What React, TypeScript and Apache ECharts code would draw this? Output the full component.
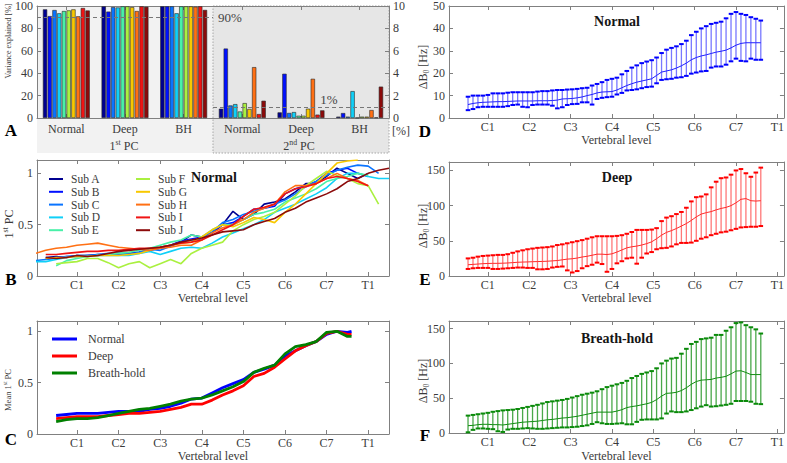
import { useEffect, useRef } from 'react';
import * as echarts from 'echarts';

const FONT = "'Liberation Serif', 'DejaVu Serif', serif";
const TEXT = '#3a3a3a';
const AXIS = '#808080';

// ---------- Panel A : variance explained ----------
const subjects = ['Sub A', 'Sub B', 'Sub C', 'Sub D', 'Sub E', 'Sub F', 'Sub G', 'Sub H', 'Sub I', 'Sub J'];
const subjectColors = ['#000090', '#0010ff', '#0a74ff', '#10d0f8', '#48f0a8', '#aaf040', '#f8c800', '#ff7014', '#f01414', '#8c0a0a'];
const conditionLabels = ['Normal', 'Deep', 'BH'];
const pc1Normal = [97, 91, 96.4, 93.5, 95.5, 96.1, 97, 90.8, 98.2, 96];
const pc1Deep = [99.7, 95, 99, 98.7, 99.7, 99.7, 99, 95.5, 99.7, 99.3];
const pc1BH = [99.7, 99.7, 99.7, 93.5, 99.7, 99.7, 99.7, 99.4, 99.7, 96.5];
const pc2Normal = [0.83, 6.2, 1.12, 1.24, 0.58, 1.33, 0.81, 4.54, 0.35, 1.54];
const pc2Deep = [0.5, 3.95, 0.45, 0.53, 0.2, 0.2, 0.83, 3.5, 0.3, 0.68];
const pc2BH = [0.12, 0.44, 0.12, 2.4, 0.03, 0.12, 0.12, 0.71, 0.05, 2.8];

// ---------- vertebral axis ----------
const vertLabels = ['C1', 'C2', 'C3', 'C4', 'C5', 'C6', 'C7', 'T1'];
const vertTicks = [1, 2, 3, 4, 5, 6, 7, 8];

// ---------- Panel B : 1st PC per subject ----------
const bX = [0, 0.25, 0.5, 0.75, 1, 1.25, 1.5, 1.75, 2, 2.25, 2.5, 2.75, 3, 3.25, 3.5, 3.75, 4, 4.25, 4.5, 4.75, 5, 5.25, 5.5, 5.75, 6, 6.25, 6.5, 6.75, 7, 7.25, 7.5, 7.75, 8, 8.25, 8.5];
const subA = [null, 0.18, 0.19, 0.18, 0.2, 0.2, 0.21, 0.21, 0.22, 0.22, 0.23, 0.25, 0.27, 0.3, 0.33, 0.4, 0.38, 0.42, 0.5, 0.63, 0.55, 0.6, 0.7, 0.72, 0.75, 0.82, 0.9, 0.9, 0.97, 1.05, 1.0, 0.95, 1.0, null, null];
const subB = [null, 0.17, 0.18, 0.19, 0.19, 0.2, 0.2, 0.21, 0.21, 0.22, 0.23, 0.26, 0.28, 0.3, 0.34, 0.36, 0.38, 0.42, 0.5, 0.52, 0.58, 0.65, 0.66, 0.68, 0.8, 0.85, 0.88, 0.92, 1.0, 1.03, 1.05, 1.0, 0.97, null, null];
const subC = [0.15, 0.16, 0.17, 0.19, 0.2, 0.2, 0.21, 0.22, 0.22, 0.21, 0.23, 0.26, 0.25, 0.29, 0.33, 0.35, 0.36, 0.43, 0.52, 0.55, 0.6, 0.63, 0.66, 0.7, 0.74, 0.8, 0.87, 0.92, 0.98, 1.03, 1.06, 1.08, 1.07, 1.0, null];
const subD = [0.14, 0.14, 0.16, 0.18, 0.19, 0.19, 0.2, 0.2, 0.2, 0.2, 0.22, 0.24, 0.21, 0.24, 0.27, 0.28, 0.27, 0.32, 0.38, 0.42, 0.46, 0.5, 0.55, 0.62, 0.66, 0.7, 0.75, 0.8, 0.86, 0.95, 1.0, 1.0, 0.97, 0.95, 0.95];
const subE = [null, null, 0.1, 0.15, 0.17, 0.19, 0.2, 0.21, 0.22, 0.23, 0.25, 0.27, 0.3, 0.33, 0.35, 0.4, 0.38, 0.45, 0.5, 0.5, 0.55, 0.6, 0.62, 0.65, 0.72, 0.76, 0.8, 0.85, 0.92, 0.95, 0.97, 1.0, 0.98, null, null];
const subF = [null, null, 0.12, 0.13, 0.14, 0.17, 0.17, 0.13, 0.08, 0.12, 0.14, 0.08, 0.12, 0.16, 0.12, 0.22, 0.27, 0.3, 0.33, 0.44, 0.5, 0.55, 0.58, 0.62, 0.7, 0.78, 0.88, 0.95, 1.02, 0.98, 0.95, 0.9, 0.88, 0.7, null];
const subG = [null, 0.17, 0.18, 0.18, 0.19, 0.19, 0.2, 0.2, 0.2, 0.21, 0.22, 0.25, 0.28, 0.3, 0.32, 0.33, 0.38, 0.45, 0.5, 0.48, 0.52, 0.57, 0.55, 0.52, 0.62, 0.7, 0.8, 0.9, 1.0, 1.1, 1.12, 1.13, null, null, null];
const subH = [0.22, 0.25, 0.27, 0.28, 0.3, 0.31, 0.32, 0.3, 0.28, 0.27, 0.26, 0.25, 0.27, 0.28, 0.3, 0.3, 0.35, 0.42, 0.47, 0.5, 0.55, 0.62, 0.66, 0.7, 0.82, 0.88, 0.88, 0.9, 0.95, 1.0, 0.95, 0.93, 0.88, null, null];
const subI = [null, 0.21, 0.21, 0.22, 0.23, 0.24, 0.24, 0.25, 0.25, 0.26, 0.27, 0.27, 0.28, 0.3, 0.32, 0.33, 0.35, 0.4, 0.45, 0.5, 0.58, 0.65, 0.67, 0.7, 0.8, 0.85, 0.87, 0.9, 0.95, 0.97, 0.95, 0.92, 0.88, null, null];
const subJ = [null, 0.18, 0.17, 0.18, 0.2, 0.19, 0.2, 0.22, 0.24, 0.25, 0.26, 0.27, 0.28, 0.3, 0.33, 0.35, 0.37, 0.4, 0.43, 0.44, 0.45, 0.5, 0.53, 0.56, 0.62, 0.66, 0.72, 0.76, 0.8, 0.85, 0.92, 0.95, 1.0, 1.03, 1.05];
const subjectCurves = [subA, subB, subC, subD, subE, subF, subG, subH, subI, subJ];

// ---------- Panel C : mean 1st PC ----------
const cX = [0.5, 0.75, 1, 1.25, 1.5, 1.75, 2, 2.25, 2.5, 2.75, 3, 3.25, 3.5, 3.75, 4, 4.25, 4.5, 4.75, 5, 5.25, 5.5, 5.75, 6, 6.25, 6.5, 6.75, 7, 7.25, 7.5, 7.6];
const meanNormal = [0.18, 0.19, 0.2, 0.2, 0.2, 0.21, 0.22, 0.22, 0.22, 0.24, 0.25, 0.27, 0.3, 0.34, 0.35, 0.4, 0.45, 0.49, 0.53, 0.6, 0.63, 0.67, 0.76, 0.81, 0.86, 0.9, 0.97, 1.0, 0.99, 1.0];
const meanDeep = [0.15, 0.16, 0.17, 0.17, 0.17, 0.18, 0.19, 0.2, 0.2, 0.21, 0.22, 0.24, 0.26, 0.29, 0.29, 0.33, 0.38, 0.42, 0.47, 0.56, 0.59, 0.65, 0.73, 0.81, 0.86, 0.9, 0.98, 1.0, 0.97, 0.97];
const meanBH = [0.12, 0.14, 0.15, 0.15, 0.16, 0.18, 0.2, 0.22, 0.24, 0.25, 0.27, 0.29, 0.32, 0.34, 0.35, 0.38, 0.42, 0.46, 0.51, 0.6, 0.64, 0.67, 0.78, 0.85, 0.87, 0.9, 0.99, 1.0, 0.95, 0.95];

// ---------- Panels D-F : delta B0 ----------
const ebX = [0.52, 0.64, 0.76, 0.88, 1.0, 1.12, 1.24, 1.36, 1.48, 1.6, 1.72, 1.84, 1.96, 2.08, 2.2, 2.32, 2.44, 2.56, 2.68, 2.8, 2.92, 3.04, 3.16, 3.28, 3.4, 3.52, 3.64, 3.76, 3.88, 4.0, 4.12, 4.24, 4.36, 4.48, 4.6, 4.72, 4.84, 4.96, 5.08, 5.2, 5.32, 5.44, 5.56, 5.68, 5.8, 5.92, 6.04, 6.16, 6.28, 6.4, 6.52, 6.64, 6.76, 6.88, 7.0, 7.12, 7.24, 7.36, 7.48, 7.6];
const dMean = [6, 6.5, 6.8, 7, 7.1, 7.2, 7.3, 7.3, 7.4, 7.5, 7.6, 7.6, 7.6, 7.6, 7.7, 7.7, 7.7, 7.8, 8, 8.5, 8.6, 8.7, 9, 9.4, 10, 10.5, 11.2, 11.6, 11.7, 11.8, 12.5, 13.5, 14.5, 15.3, 16, 16.5, 17, 17.5, 19, 20.5, 21, 21.5, 22.3, 23.3, 24.5, 26, 27, 27.7, 28.2, 28.8, 29.4, 29.8, 30.3, 31.3, 32.5, 33.3, 33.6, 33.6, 33.6, 33.6];
const dLo = [3.5, 4, 4.8, 5, 5, 5, 5, 5, 5.3, 5.8, 6, 5, 4.8, 5.8, 6, 6, 6, 5.5, 4.3, 4.8, 5.8, 6.2, 6.3, 7, 7, 6, 8.5, 9, 9.3, 9.5, 10.5, 11.2, 12.3, 12.5, 12.8, 13.3, 13.8, 14, 15.5, 17, 17.3, 17.5, 18, 18.2, 18.8, 19.8, 20.3, 20.8, 21, 22.5, 23, 23, 23.8, 25.3, 26.5, 25.5, 25.3, 26.5, 26, 26];
const dHi = [9.5, 10, 10, 10, 10.3, 11, 11, 11, 11.3, 11.5, 11.5, 11.5, 11.5, 11.5, 11.8, 12, 12, 12.3, 12.5, 12.5, 12.7, 12.8, 13, 13.3, 13.5, 14.5, 15.2, 16, 17, 17.5, 18, 19.5, 21, 22.5, 23.5, 24.5, 25.2, 25.8, 27, 29, 30.5, 31.3, 32, 33, 34.5, 37, 38.5, 40, 41, 42, 42.5, 43, 44.5, 46.5, 47.3, 46.5, 46, 45, 44.3, 43.5];
const eMean = [16, 16.5, 17, 17.5, 17.8, 18, 18, 18.2, 18.5, 19, 19.5, 19.8, 20, 20.3, 20.5, 20.7, 21, 21.5, 22, 23, 24, 24.5, 25.5, 27, 28, 29.5, 31, 31, 30.5, 31.5, 34, 37, 40, 41.5, 42.5, 44, 46, 48.5, 53, 58, 62, 64.5, 67.5, 71, 74.5, 79, 84, 88, 90, 91.5, 94, 96, 97.5, 100, 104, 109, 110, 107, 106.5, 107];
const eLo = [10, 11, 11.5, 11.5, 11.5, 10, 10, 10.5, 11, 11.5, 12, 12, 11.5, 11.5, 9.5, 9.5, 10, 12, 13, 13.5, 8, 5, 7, 11, 14, 16, 19, 17, 6, 10, 18, 21, 25, 26, 17.5, 26, 32, 34, 38, 39.5, 40, 42, 45, 47, 47, 47.5, 50, 53, 55, 58, 60, 62, 63, 65, 67, 69, 69.5, 70, 70, 71];
const eHi = [25, 26, 27.5, 28.5, 29, 29.5, 30, 30, 31, 33, 35, 36.5, 38, 39, 40, 40.5, 41, 42, 44, 45, 46.5, 48, 49.5, 51, 53, 55, 56.5, 56.5, 56.5, 56.5, 57, 58, 60, 62.5, 65.5, 65.5, 65.5, 66, 68, 78, 83, 85, 88, 91, 97, 106, 112, 113, 116, 126, 134, 139, 140, 144, 150, 152, 146, 141, 147, 154];
const fMean = [10.5, 11, 12, 12.5, 12.5, 12, 12, 11.5, 12.5, 13.5, 14.5, 15.5, 16, 16.5, 17, 18, 19, 19.5, 20.5, 21.5, 22, 23, 24, 25.5, 27, 28.5, 30, 30, 30, 30, 31.5, 33.5, 36.5, 38, 39, 40.5, 42, 44, 48, 53, 57, 57.5, 58.5, 61, 65, 70, 74, 76, 76.5, 77, 79, 80, 81.5, 85, 89, 89.5, 87, 84, 84, 84];
const fLo = [1, 4.5, 6.5, 6.5, 6, 5.5, 2.5, 1.5, 5, 6, 6, 6.5, 7, 6.5, 6, 6, 6.5, 7, 7.5, 8, 8, 8.5, 9, 10, 11, 13, 15.5, 14, 13, 13, 13.5, 14, 12.5, 12.5, 16, 19, 19.5, 19.5, 19.5, 21, 28, 31, 30, 30, 31, 33, 35.5, 38, 40, 38, 38.5, 39.5, 40.5, 42, 46, 46, 46, 45, 42, 41.5];
const fHi = [25, 26, 27, 28, 29, 30.5, 31.5, 32.5, 33, 33.5, 34.5, 36, 37.5, 39, 40.5, 42.5, 44.5, 45.5, 46.5, 47.5, 49, 51, 53, 55, 56.5, 58, 60, 63, 66, 68, 70, 72, 75, 79, 82, 85, 87, 89, 93, 100, 104, 107, 108, 114, 121, 128, 131, 135, 136, 137, 141, 141, 147, 152, 158, 159, 155, 152, 149, 143];

const labelStyle = { fontFamily: FONT, fontSize: 12, color: TEXT };

function catAxis(gridIndex: number, position: 'bottom' | 'top') {
  return {
    type: 'category', gridIndex, position, data: conditionLabels,
    axisLine: { show: true, onZero: false, lineStyle: { color: AXIS, width: 1 } },
    axisTick: { show: true, inside: true, length: 4, alignWithLabel: true, interval: 0, lineStyle: { color: AXIS } },
    axisLabel: { show: position === 'bottom', interval: 0, margin: 5, ...labelStyle },
    splitLine: { show: false },
  };
}

function vertAxis(gridIndex: number, min: number, max: number, position: 'bottom' | 'top', nameGap: number) {
  return {
    type: 'value', gridIndex, position, min, max,
    name: position === 'bottom' ? 'Vertebral level' : '',
    nameLocation: 'middle', nameGap,
    nameTextStyle: { ...labelStyle },
    axisLine: { show: true, onZero: false, lineStyle: { color: AXIS, width: 1 } },
    axisTick: { show: true, inside: true, length: 4, customValues: vertTicks, lineStyle: { color: AXIS } },
    axisLabel: {
      show: position === 'bottom', customValues: vertTicks, margin: 3, ...labelStyle,
      formatter: (v: number) => vertLabels[Math.round(v) - 1] ?? '',
    },
    splitLine: { show: false },
  };
}

function valAxis(gridIndex: number, min: number, max: number, ticks: number[], position: 'left' | 'right', showLabel: boolean) {
  return {
    type: 'value', gridIndex, position, min, max,
    axisLine: { show: true, onZero: false, lineStyle: { color: AXIS, width: 1 } },
    axisTick: { show: true, inside: true, length: 4, customValues: ticks, lineStyle: { color: AXIS } },
    axisLabel: { show: showLabel, customValues: ticks, margin: 4, ...labelStyle },
    splitLine: { show: false },
  };
}

function errorBars(name: string, lo: number[], hi: number[], xi: number, yi: number, stem: string, cap: string) {
  return {
    type: 'custom', name, xAxisIndex: xi, yAxisIndex: yi, z: 2,
    data: ebX.map((x, i) => [x, lo[i], hi[i]]),
    encode: { x: 0, y: [1, 2] },
    renderItem: (_p: any, api: any) => {
      const x = api.value(0);
      const a = api.coord([x, api.value(1)]);
      const b = api.coord([x, api.value(2)]);
      const hw = 2.3;
      return {
        type: 'group',
        children: [
          { type: 'line', shape: { x1: a[0], y1: a[1], x2: b[0], y2: b[1] }, style: { stroke: stem, lineWidth: 1.3 } },
          { type: 'line', shape: { x1: a[0] - hw, y1: a[1], x2: a[0] + hw, y2: a[1] }, style: { stroke: cap, lineWidth: 2 } },
          { type: 'line', shape: { x1: b[0] - hw, y1: b[1], x2: b[0] + hw, y2: b[1] }, style: { stroke: cap, lineWidth: 2 } },
        ],
      };
    },
  };
}

function meanLine(name: string, mean: number[], xi: number, yi: number, color: string) {
  return {
    type: 'line', name, xAxisIndex: xi, yAxisIndex: yi, z: 3, symbol: 'none',
    data: ebX.map((x, i) => [x, mean[i]]),
    lineStyle: { color, width: 1 },
  };
}

function richText(x: number, y: number, text: string, rich: any, size: number, rotate = false) {
  return {
    type: 'text', x, y, z: 100, rotation: rotate ? Math.PI / 2 : 0,
    style: { text, rich, align: 'center', verticalAlign: 'middle', fontFamily: FONT, fontSize: size, fill: TEXT },
  };
}

function richSet(size: number) {
  return {
    n: { fontFamily: FONT, fontSize: size, lineHeight: size + 3, fill: TEXT },
    s: { fontFamily: FONT, fontSize: size * 0.65, verticalAlign: 'top', fill: TEXT },
    b: { fontFamily: FONT, fontSize: size * 0.65, verticalAlign: 'bottom', fill: TEXT },
  };
}

function plainText(x: number, y: number, text: string, size: number, bold: boolean, rotate = false, color = TEXT) {
  return {
    type: 'text', x, y, z: 100, rotation: rotate ? Math.PI / 2 : 0,
    style: { text, align: 'center', verticalAlign: 'middle', fontFamily: FONT, fontSize: size, fontWeight: bold ? 'bold' : 'normal', fill: color },
  };
}

function buildOption() {
  const grids = [
    { left: 37, top: 6, width: 176, height: 112 },
    { left: 213, top: 6, width: 176, height: 112 },
    { left: 37, top: 160, width: 352, height: 116 },
    { left: 37, top: 321, width: 352, height: 113 },
    { left: 449, top: 6, width: 337, height: 112 },
    { left: 449, top: 162, width: 337, height: 114 },
    { left: 449, top: 321, width: 337, height: 112 },
  ];

  const xAxis = [
    catAxis(0, 'bottom'), catAxis(1, 'bottom'), catAxis(0, 'top'), catAxis(1, 'top'),
    vertAxis(2, 0.04, 8.5, 'bottom', 16), vertAxis(2, 0.04, 8.5, 'top', 0),
    vertAxis(3, 0.04, 8.5, 'bottom', 12), vertAxis(3, 0.04, 8.5, 'top', 0),
    vertAxis(4, 0.06, 8.16, 'bottom', 15), vertAxis(4, 0.06, 8.16, 'top', 0),
    vertAxis(5, 0.06, 8.16, 'bottom', 16), vertAxis(5, 0.06, 8.16, 'top', 0),
    vertAxis(6, 0.06, 8.16, 'bottom', 17), vertAxis(6, 0.06, 8.16, 'top', 0),
  ];

  const pcTicks = [0, 0.5, 1];
  const yAxis = [
    valAxis(0, 0, 100, [0, 20, 40, 60, 80, 100], 'left', true),
    valAxis(1, 0, 10, [0, 2, 4, 6, 8, 10], 'right', true),
    valAxis(2, 0, 1.13, pcTicks, 'left', true), valAxis(2, 0, 1.13, pcTicks, 'right', false),
    valAxis(3, 0, 1.1, pcTicks, 'left', true), valAxis(3, 0, 1.1, pcTicks, 'right', false),
    valAxis(4, 0, 50, [0, 10, 20, 30, 40, 50], 'left', true), valAxis(4, 0, 50, [0, 10, 20, 30, 40, 50], 'right', false),
    valAxis(5, 0, 162, [0, 50, 100, 150], 'left', true), valAxis(5, 0, 162, [0, 50, 100, 150], 'right', false),
    valAxis(6, 0, 161, [0, 50, 100, 150], 'left', true), valAxis(6, 0, 161, [0, 50, 100, 150], 'right', false),
  ];

  const series: any[] = [];
  subjects.forEach((s, i) => {
    series.push({
      type: 'bar', name: s + ' (1st PC)', xAxisIndex: 0, yAxisIndex: 0,
      data: [pc1Normal[i], pc1Deep[i], pc1BH[i]],
      barWidth: 4.3, barGap: '10%',
      itemStyle: { color: subjectColors[i], borderColor: '#262626', borderWidth: 0.6 },
      ...(i === 0 ? {
        markLine: {
          silent: true, symbol: 'none', data: [{ yAxis: 90 }],
          lineStyle: { type: [4, 3], color: '#777777', width: 1 },
          label: { show: true, position: 'end', formatter: '90%', fontFamily: FONT, fontSize: 13, color: '#444444' },
        },
      } : {}),
    });
  });
  subjects.forEach((s, i) => {
    series.push({
      type: 'bar', name: s + ' (2nd PC)', xAxisIndex: 1, yAxisIndex: 1,
      data: [pc2Normal[i], pc2Deep[i], pc2BH[i]],
      barWidth: 4.3, barGap: '10%',
      itemStyle: { color: subjectColors[i], borderColor: '#262626', borderWidth: 0.6 },
      ...(i === 0 ? {
        markLine: {
          silent: true, symbol: 'none', data: [{ yAxis: 1 }],
          lineStyle: { type: [4, 3], color: '#777777', width: 1 },
          label: { show: false },
        },
      } : {}),
    });
  });
  subjects.forEach((s, i) => {
    const curve = subjectCurves[i];
    series.push({
      type: 'line', name: s, xAxisIndex: 4, yAxisIndex: 2, symbol: 'none',
      data: bX.map((x, k) => [x, curve[k]]).filter((p) => p[1] !== null),
      lineStyle: { color: subjectColors[i], width: 1.6 },
      itemStyle: { color: subjectColors[i] },
    });
  });
  const meanSets: [string, number[], string][] = [
    ['Normal', meanNormal, '#0000ff'],
    ['Deep', meanDeep, '#ff0000'],
    ['Breath-hold', meanBH, '#008000'],
  ];
  meanSets.forEach(([n, arr, c]) => {
    series.push({
      type: 'line', name: n, xAxisIndex: 6, yAxisIndex: 4, symbol: 'none',
      data: cX.map((x, k) => [x, arr[k]]),
      lineStyle: { color: c, width: 2.8 },
      itemStyle: { color: c },
    });
  });
  series.push(errorBars('Normal ΔB0 range', dLo, dHi, 8, 6, '#7878ff', '#0000ff'));
  series.push(meanLine('Normal ΔB0 mean', dMean, 8, 6, '#2020ff'));
  series.push(errorBars('Deep ΔB0 range', eLo, eHi, 10, 8, '#ff7878', '#ff0000'));
  series.push(meanLine('Deep ΔB0 mean', eMean, 10, 8, '#ff2a2a'));
  series.push(errorBars('Breath-hold ΔB0 range', fLo, fHi, 12, 10, '#4aa84a', '#0a8a0a'));
  series.push(meanLine('Breath-hold ΔB0 mean', fMean, 12, 10, '#108c10'));

  const r12 = richSet(12);
  const graphic = [
    { type: 'rect', z: -10, shape: { x: 37, y: 6, width: 176, height: 147 }, style: { fill: '#f2f2f2' } },
    { type: 'rect', z: -10, shape: { x: 213, y: 6, width: 176, height: 147 }, style: { fill: '#e6e6e6', stroke: '#a8a8a8', lineWidth: 1, lineDash: [1.5, 1.5] } },
    richText(124, 146, '{n|1}{s|st}{n| PC}', r12, 12),
    richText(299, 146, '{n|2}{s|nd}{n| PC}', r12, 12),
    plainText(329, 99, '1%', 13, false, false, '#444444'),
    { type: 'text', x: 392, y: 131, z: 100, style: { text: '[%]', align: 'left', verticalAlign: 'middle', fontFamily: FONT, fontSize: 12, fill: TEXT } },
    plainText(8, 41, 'Variance explained [%]', 8, false, true),
    richText(9, 224, '{n|1}{s|st}{n| PC}', r12, 12, true),
    richText(8, 390, '{n|Mean 1}{s|st}{n| PC}', richSet(8.5), 8.5, true),
    richText(423, 67, '{n|ΔB}{b|0}{n| [Hz]}', r12, 12, true),
    richText(423, 226, '{n|ΔB}{b|0}{n| [Hz]}', r12, 12, true),
    richText(423, 381, '{n|ΔB}{b|0}{n| [Hz]}', r12, 12, true),
    plainText(214, 177, 'Normal', 14, true, false, '#151515'),
    plainText(617, 21, 'Normal', 14, true, false, '#151515'),
    plainText(617, 177, 'Deep', 14, true, false, '#151515'),
    plainText(617, 338, 'Breath-hold', 14, true, false, '#151515'),
    plainText(11, 130, 'A', 17, true, false, '#000000'),
    plainText(11, 279, 'B', 17, true, false, '#000000'),
    plainText(11, 439, 'C', 17, true, false, '#000000'),
    plainText(425, 131, 'D', 17, true, false, '#000000'),
    plainText(425, 279, 'E', 17, true, false, '#000000'),
    plainText(425, 435, 'F', 17, true, false, '#000000'),
  ];

  const legendText = { fontFamily: FONT, fontSize: 11.5, color: TEXT, lineHeight: 11.5 };
  const legend = [
    { data: subjects.slice(0, 5), orient: 'vertical', left: 49, top: 173, padding: 0, icon: 'rect', itemWidth: 14, itemHeight: 2, itemGap: 0.8, selectedMode: false, textStyle: { ...legendText, padding: [0, 0, 0, 3] } },
    { data: subjects.slice(5), orient: 'vertical', left: 136, top: 173, padding: 0, icon: 'rect', itemWidth: 14, itemHeight: 2, itemGap: 0.8, selectedMode: false, textStyle: { ...legendText, padding: [0, 0, 0, 3] } },
    { data: ['Normal', 'Deep', 'Breath-hold'], orient: 'vertical', left: 52, top: 333, padding: 0, icon: 'rect', itemWidth: 25, itemHeight: 3, itemGap: 5, selectedMode: false, textStyle: { fontFamily: FONT, fontSize: 12, color: TEXT, lineHeight: 12, padding: [0, 0, 0, 6] } },
  ];

  return {
    animation: false,
    backgroundColor: '#ffffff',
    textStyle: { fontFamily: FONT },
    grid: grids,
    xAxis, yAxis, series, graphic, legend,
  };
}

export default function App() {
  const ref = useRef<HTMLDivElement>(null);
  useEffect(() => {
    const chart = echarts.init(ref.current as HTMLDivElement, null, { renderer: 'svg' });
    chart.setOption(buildOption() as any);
    return () => chart.dispose();
  }, []);
  return <div ref={ref} style={{ position: 'fixed', left: 0, top: 0, width: 787, height: 463 }} />;
}
